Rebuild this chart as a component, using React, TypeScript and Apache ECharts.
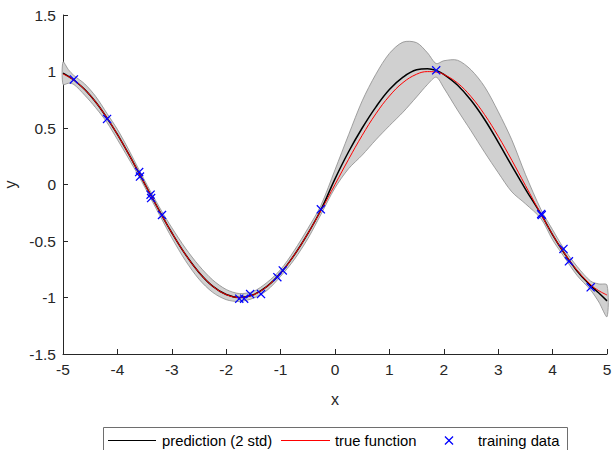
import React, { useEffect, useRef } from "react";
import * as echarts from "echarts";

// grid of x positions where the curves were read
const xs = [-5, -4.9, -4.8, -4.6, -4.4, -4.19, -4.0, -3.8, -3.6, -3.4, -3.18, -3.0, -2.75, -2.5, -2.25, -2.0, -1.76, -1.5, -1.25, -1.0, -0.75, -0.5, -0.26, 0, 0.25, 0.5, 0.75, 1.0, 1.25, 1.5, 1.7, 1.86, 2.0, 2.25, 2.5, 2.75, 3.0, 3.25, 3.5, 3.79, 4.0, 4.2, 4.45, 4.7, 4.85, 5.0];

// true function (red)
const trueY = [0.978, 0.954, 0.924, 0.84, 0.73, 0.588, 0.443, 0.275, 0.098, -0.082, -0.276, -0.427, -0.618, -0.778, -0.899, -0.974, -1.0, -0.976, -0.902, -0.783, -0.625, -0.435, -0.232, 0, 0.223, 0.435, 0.625, 0.783, 0.902, 0.976, 0.999, 0.995, 0.974, 0.899, 0.778, 0.618, 0.427, 0.215, -0.008, -0.266, -0.443, -0.596, -0.76, -0.886, -0.94, -0.978];

// prediction mean (black)
const meanY = [0.985, 0.956, 0.925, 0.84, 0.73, 0.588, 0.443, 0.275, 0.098, -0.082, -0.276, -0.427, -0.618, -0.778, -0.899, -0.974, -1.0, -0.976, -0.902, -0.783, -0.625, -0.435, -0.226, 0.05, 0.29, 0.5, 0.685, 0.84, 0.95, 1.015, 1.025, 1.01, 0.975, 0.88, 0.745, 0.575, 0.375, 0.165, -0.04, -0.265, -0.445, -0.597, -0.765, -0.895, -0.96, -1.03];

// 2 std half width of the band
const band2std = [0.1, 0.06, 0.04, 0.05, 0.05, 0.04, 0.045, 0.04, 0.03, 0.03, 0.035, 0.045, 0.055, 0.06, 0.055, 0.045, 0.035, 0.03, 0.035, 0.03, 0.04, 0.045, 0.04, 0.08, 0.15, 0.24, 0.29, 0.32, 0.31, 0.24, 0.14, 0.06, 0.12, 0.22, 0.27, 0.29, 0.27, 0.23, 0.13, 0.04, 0.045, 0.035, 0.04, 0.04, 0.08, 0.14];

// training data (blue crosses)
const trainX = [-4.8, -4.19, -3.6, -3.585, -3.39, -3.38, -3.18, -1.76, -1.67, -1.56, -1.36, -1.06, -0.96, -0.26, 1.86, 3.79, 3.8, 4.2, 4.3, 4.7];
const trainY = [0.93, 0.58, 0.11, 0.07, -0.09, -0.12, -0.27, -1.01, -1.01, -0.97, -0.97, -0.82, -0.76, -0.22, 1.01, -0.26, -0.27, -0.57, -0.68, -0.91];

const legendLabels = ["prediction (2 std)", "true function", "training data"];

const xTicks = { min: -5, max: 5, interval: 1 };
const yTicks = { min: -1.5, max: 1.5, interval: 0.5 };

const TEXT = "#262626";
const FONT = "Liberation Sans, Arial, sans-serif";
const CROSS = "path://M1,0L5,4L9,0L10,1L6,5L10,9L9,10L5,6L1,10L0,9L4,5L0,1Z";
const CROSS_PTS = [[1, 0], [5, 4], [9, 0], [10, 1], [6, 5], [10, 9], [9, 10], [5, 6], [1, 10], [0, 9], [4, 5], [0, 1]];

export default function App() {
  const ref = useRef<HTMLDivElement>(null);
  useEffect(() => {
    document.body.style.margin = "0";
    const chart = echarts.init(ref.current!, undefined, { renderer: "svg" });
    const upper = xs.map((_, i) => meanY[i] + band2std[i]);
    const lower = xs.map((_, i) => meanY[i] - band2std[i]);
    const bandData = xs.map((x, i) => [x, lower[i], upper[i]]);
    const axisCommon = {
      axisLine: { onZero: false, lineStyle: { color: TEXT, width: 1 } },
      axisTick: { inside: true, length: 5, lineStyle: { color: TEXT } },
      splitLine: { show: false },
      nameTextStyle: { color: TEXT, fontSize: 16, fontFamily: FONT },
      nameLocation: "middle" as const,
    };
    const labelStyle = { color: TEXT, fontSize: 15.5, fontFamily: FONT, margin: 7 };
    const ly = 440.5;
    const legendText = (t: string, x: number) => ({
      type: "text",
      x,
      y: ly,
      z: 101,
      style: { text: t, fill: "#000", fontSize: 14.8, fontFamily: FONT, verticalAlign: "middle", align: "left" },
    });
    const crossPts = CROSS_PTS.map(([px, py]) => [449 + (px - 5) * 0.9, ly + (py - 5) * 0.9]);
    chart.setOption({
      animation: false,
      grid: { left: 63, right: 6, top: 15, bottom: 96, containLabel: false, outerBoundsMode: "none" },
      xAxis: {
        type: "value",
        ...xTicks,
        ...axisCommon,
        axisLabel: labelStyle,
        name: "x",
        nameGap: 37,
      },
      yAxis: {
        type: "value",
        ...yTicks,
        ...axisCommon,
        axisLabel: labelStyle,
        name: "y",
        nameGap: 44,
      },
      graphic: [
        {
          type: "rect",
          z: 100,
          shape: { x: 103.5, y: 427.5, width: 464, height: 30 },
          style: { fill: "#fff", stroke: "#6e6e6e", lineWidth: 1 },
        },
        { type: "line", z: 101, shape: { x1: 108, y1: ly, x2: 156, y2: ly }, style: { stroke: "#000", lineWidth: 1 } },
        legendText(legendLabels[0], 162),
        { type: "line", z: 101, shape: { x1: 281, y1: ly, x2: 330, y2: ly }, style: { stroke: "#ff0000", lineWidth: 1 } },
        legendText(legendLabels[1], 335),
        { type: "polygon", z: 101, shape: { points: crossPts }, style: { fill: "#0000ff" } },
        legendText(legendLabels[2], 478),
      ],
      series: [
        {
          type: "custom",
          name: "band",
          silent: true,
          data: bandData,
          encode: { x: 0, y: [1, 2] },
          z: 1,
          renderItem: (params: any, api: any) => {
            if (params.dataIndex !== 0) return null;
            const pts: number[][] = [];
            for (let i = 0; i < xs.length; i++) pts.push(api.coord([xs[i], upper[i]]));
            for (let i = xs.length - 1; i >= 0; i--) pts.push(api.coord([xs[i], lower[i]]));
            return {
              type: "polygon",
              shape: { points: pts, smooth: 0.3 },
              style: { fill: "#d0d0d0", stroke: "#8c8c8c", lineWidth: 0.8 },
            };
          },
        },
        {
          type: "line",
          name: legendLabels[0],
          data: xs.map((x, i) => [x, meanY[i]]),
          smooth: 0.4,
          symbol: "none",
          lineStyle: { color: "#000", width: 1.5 },
          itemStyle: { color: "#000" },
          z: 2,
        },
        {
          type: "line",
          name: legendLabels[1],
          data: xs.map((x, i) => [x, trueY[i]]),
          smooth: 0.4,
          symbol: "none",
          lineStyle: { color: "#ff0000", width: 1 },
          itemStyle: { color: "#ff0000" },
          z: 3,
        },
        {
          type: "scatter",
          name: legendLabels[2],
          data: trainX.map((x, i) => [x, trainY[i]]),
          symbol: CROSS,
          symbolSize: 9,
          itemStyle: { color: "#0000ff", opacity: 1 },
          z: 4,
        },
      ],
    });
    return () => chart.dispose();
  }, []);
  return <div ref={ref} style={{ width: 613, height: 450 }} />;
}
